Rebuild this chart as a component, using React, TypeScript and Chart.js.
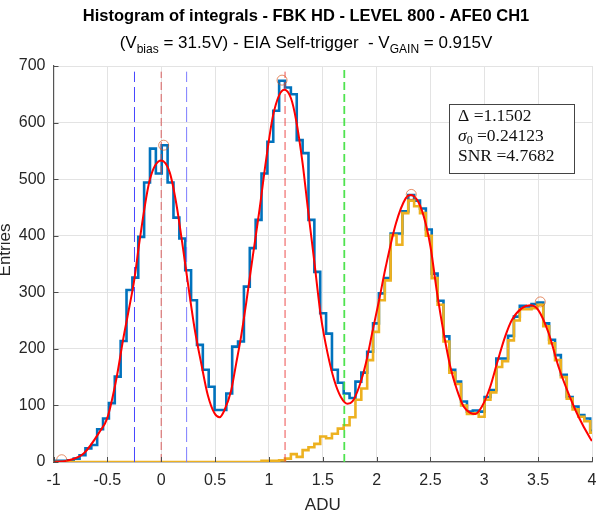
import React, { useEffect, useRef } from "react";
import { Chart, registerables } from "chart.js";
Chart.register(...registerables);

// Histogram binning (edges start at BIN_START, spaced BIN_WIDTH)
const BIN_START = -1.0305;
const BIN_WIDTH = 0.0545;

// Blue histogram counts (all events), one per bin
const blueCounts = [
  1, 2, 2, 3, 6, 12, 24, 30, 58, 77, 104, 151, 214, 304, 326, 398, 494, 554, 510,
  560, 494, 432, 395, 339, 286, 207, 163, 133, 92,
  92, 121, 204, 213, 310, 378, 428, 510, 566, 621,
  674, 662, 650, 569, 546, 428, 336, 263, 227, 163,
  140, 121, 113, 142, 158, 195, 245, 298, 325, 404,
  404, 443, 472, 462, 448, 411, 333, 285, 222, 163,
  142, 107, 89, 91, 89, 115, 127, 183, 183, 223,
  257, 276, 275, 279, 282, 245, 216, 189, 154, 115,
  98, 83, 77, 55,
];

// Orange histogram counts (above threshold), one per bin
const orangeCounts = [
  0, 0, 0, 0, 0, 0, 0, 0, 0, 0, 0, 0, 0, 0, 0, 0, 0, 0, 0,
  0, 0, 0, 0, 0, 0, 0, 0, 0, 0, 0, 0, 0, 0, 0, 0, 0,
  2, 2, 2, 3, 6, 14, 9, 21, 26, 32,
  45, 42, 50, 59, 65, 79, 110, 130, 180, 230,
  286, 321, 401, 384, 440, 462, 452, 440, 400, 325,
  278, 213, 158, 138, 100, 85, 86, 80, 110, 123,
  168, 178, 215, 250, 270, 270, 272, 278, 240, 210,
  180, 150, 112, 93, 80, 72, 52,
];

// Red fit curve, read at sample positions
const fitX = [
  -1.0, -0.88, -0.72, -0.57, -0.5, -0.415, -0.354, -0.3, -0.25, -0.2, -0.107, 0.0,
  0.079, 0.14, 0.2, 0.248, 0.31, 0.372, 0.433, 0.495, 0.542, 0.588, 0.65, 0.696,
  0.742, 0.789, 0.85, 0.912, 0.974, 1.036, 1.097, 1.144, 1.205, 1.252, 1.313, 1.36,
  1.42, 1.483, 1.545, 1.606, 1.668, 1.73, 1.776, 1.838, 1.9, 1.961, 2.023, 2.085,
  2.18, 2.27, 2.316, 2.377, 2.438, 2.5, 2.562, 2.623, 2.685, 2.747, 2.808, 2.87,
  2.917, 2.978, 3.055, 3.117, 3.194, 3.256, 3.349, 3.426, 3.5, 3.597, 3.69, 3.782,
  3.875, 3.983, 4.0,
];
const fitY = [
  0, 2, 15, 54, 78, 148, 216, 270, 322, 392, 498, 533,
  512, 457, 381, 316, 236, 174, 118, 86, 79, 92, 127, 174,
  222, 281, 363, 445, 534, 610, 649, 658, 643, 605, 528, 451,
  357, 257, 192, 145, 115, 103, 107, 133, 174, 230, 286, 345,
  422, 466, 472, 463, 434, 381, 298, 228, 168, 127, 98, 87,
  85, 98, 133, 174, 222, 251, 272, 277, 269, 228, 168, 121,
  80, 42, 37,
];

// Peak markers
const peakX = [-0.924, 0.023, 1.122, 2.322, 3.52];
const peakY = [4, 560, 675, 473, 283];

// Vertical reference lines
const sigmaLines = [-0.248, 0.236];
const peakLines = [0.0, 1.15];
const thresholdLine = 1.7;
const refTop = 690;

const xTickValues = [-1, -0.5, 0, 0.5, 1, 1.5, 2, 2.5, 3, 3.5, 4];

const titleText = "Histogram of integrals - FBK HD - LEVEL 800 - AFE0 CH1";
const boxDelta = "1.1502";
const boxSigma = "0.24123";
const boxSNR = "4.7682";

function stairs(counts: number[]) {
  const pts: { x: number; y: number }[] = [];
  counts.forEach((c, i) => pts.push({ x: BIN_START + i * BIN_WIDTH, y: c }));
  pts.push({ x: BIN_START + counts.length * BIN_WIDTH, y: counts[counts.length - 1] });
  return pts;
}

type Run = { t: string; f: string; dy?: number };

function drawRuns(ctx: CanvasRenderingContext2D, runs: Run[], x: number, y: number, align: "center" | "left") {
  let total = 0;
  for (const r of runs) {
    ctx.font = r.f;
    total += ctx.measureText(r.t).width;
  }
  let cx = align === "center" ? x - total / 2 : x;
  ctx.textAlign = "left";
  ctx.textBaseline = "alphabetic";
  for (const r of runs) {
    ctx.font = r.f;
    ctx.fillText(r.t, cx, y + (r.dy || 0));
    cx += ctx.measureText(r.t).width;
  }
}

const overlayPlugin = {
  id: "overlay",
  afterDraw(chart: any) {
    const ctx: CanvasRenderingContext2D = chart.ctx;
    const xs = chart.scales.x;
    const ys = chart.scales.y;
    const area = chart.chartArea;
    ctx.save();
    // inward ticks
    ctx.strokeStyle = "#4d4d4d";
    ctx.lineWidth = 1;
    ctx.beginPath();
    for (const v of xTickValues) {
      const px = Math.round(xs.getPixelForValue(v)) + 0.5;
      ctx.moveTo(px, area.bottom);
      ctx.lineTo(px, area.bottom - 5);
    }
    for (let v = 0; v <= 700; v += 100) {
      const py = Math.round(ys.getPixelForValue(v)) + 0.5;
      ctx.moveTo(area.left, py);
      ctx.lineTo(area.left + 5, py);
    }
    ctx.stroke();

    // titles
    ctx.fillStyle = "#000";
    drawRuns(ctx, [{ t: titleText, f: 'bold 16.5px "Liberation Sans", Arial, sans-serif' }], 306, 21, "center");
    const mf = '17px "Liberation Sans", Arial, sans-serif';
    const sf = '12px "Liberation Sans", Arial, sans-serif';
    drawRuns(
      ctx,
      [
        { t: "(V", f: mf },
        { t: "bias", f: sf, dy: 5 },
        { t: " = 31.5V) - EIA Self-trigger  - V", f: mf },
        { t: "GAIN", f: sf, dy: 5 },
        { t: " = 0.915V", f: mf },
      ],
      306,
      48,
      "center"
    );

    // axis labels
    ctx.fillStyle = "#262626";
    ctx.font = '17px "Liberation Sans", Arial, sans-serif';
    ctx.textAlign = "center";
    ctx.textBaseline = "middle";
    ctx.fillText("ADU", (area.left + area.right) / 2, 505);
    ctx.save();
    ctx.translate(5, 250);
    ctx.rotate(-Math.PI / 2);
    ctx.fillText("Entries", 0, 0);
    ctx.restore();

    // annotation box
    const bx = 449.5, by = 104.5, bw = 125, bh = 69;
    ctx.fillStyle = "#fff";
    ctx.fillRect(bx, by, bw, bh);
    ctx.strokeStyle = "#444";
    ctx.lineWidth = 1;
    ctx.strokeRect(bx, by, bw, bh);
    ctx.fillStyle = "#111";
    const sfnt = '17.5px "Liberation Serif", "DejaVu Serif", serif';
    const sfi = 'italic 17.5px "Liberation Serif", "DejaVu Serif", serif';
    const ssub = '12px "Liberation Serif", "DejaVu Serif", serif';
    drawRuns(ctx, [{ t: "\u0394 =" + boxDelta, f: sfnt }], 458, 121, "left");
    drawRuns(
      ctx,
      [
        { t: "\u03c3", f: sfi },
        { t: "0", f: ssub, dy: 3 },
        { t: " =" + boxSigma, f: sfnt },
      ],
      458,
      141,
      "left"
    );
    drawRuns(ctx, [{ t: "SNR =" + boxSNR, f: sfnt }], 458, 161, "left");
    ctx.restore();
  },
};

function vline(x: number, top: number) {
  return [
    { x, y: 0 },
    { x, y: top },
  ];
}

export default function App() {
  const ref = useRef<HTMLCanvasElement | null>(null);
  useEffect(() => {
    if (!ref.current) return;
    const fitData = fitX.map((x, i) => ({ x, y: fitY[i] }));
    const peaks = peakX.map((x, i) => ({ x, y: peakY[i] }));
    const lineDs = (data: any, color: string, dash: number[], width: number, order: number) => ({
      type: "line" as const,
      data,
      borderColor: color,
      borderWidth: width,
      borderDash: dash,
      pointRadius: 0,
      fill: false,
      order,
    });
    const chart = new Chart(ref.current, {
      type: "line",
      data: {
        datasets: [
          {
            label: "peaks",
            data: peaks,
            showLine: false,
            pointRadius: 5,
            pointBorderWidth: 1,
            pointBorderColor: "rgba(217,83,25,0.65)",
            pointBackgroundColor: "rgba(0,0,0,0)",
            order: 0,
          } as any,
          {
            label: "fit",
            data: fitData,
            borderColor: "#ff0000",
            borderWidth: 2,
            pointRadius: 0,
            cubicInterpolationMode: "monotone",
            fill: false,
            order: 1,
          } as any,
          { label: "thr", ...lineDs(vline(thresholdLine, 700), "rgba(70,225,70,0.95)", [8, 4], 1.8, 2) } as any,
          { label: "p0", ...lineDs(vline(peakLines[0], refTop), "rgba(215,70,70,0.85)", [8, 4], 1, 2) } as any,
          { label: "p1", ...lineDs(vline(peakLines[1], refTop), "rgba(235,60,60,0.9)", [8, 4], 1, 2) } as any,
          { label: "s0", ...lineDs(vline(sigmaLines[0], refTop), "rgba(60,60,255,0.95)", [15, 5], 1, 2) } as any,
          { label: "s1", ...lineDs(vline(sigmaLines[1], refTop), "rgba(110,110,255,0.9)", [15, 5], 1, 2) } as any,
          {
            label: "orange",
            data: stairs(orangeCounts),
            stepped: true,
            borderColor: "#EDB120",
            borderWidth: 2.6,
            pointRadius: 0,
            fill: false,
            order: 3,
          } as any,
          {
            label: "blue",
            data: stairs(blueCounts),
            stepped: true,
            borderColor: "#0072BD",
            borderWidth: 2.6,
            pointRadius: 0,
            fill: false,
            order: 4,
          } as any,
        ],
      },
      options: {
        responsive: false,
        devicePixelRatio: 1,
        animation: false,
        layout: { padding: { left: 0, top: 66, right: 4.5, bottom: 0 } },
        plugins: { legend: { display: false }, tooltip: { enabled: false }, title: { display: false } },
        scales: {
          x: {
            type: "linear",
            min: -1,
            max: 4,
            afterBuildTicks: (s: any) => {
              s.ticks = xTickValues.map((v) => ({ value: v }));
            },
            ticks: {
              color: "#262626",
              font: { family: '"Liberation Sans", Arial, sans-serif', size: 16 },
              padding: 9,
              maxRotation: 0,
              autoSkip: false,
              callback: (v: any) => String(+Number(v).toFixed(2)),
            },
            grid: { color: "#e3e3e3", drawTicks: false, lineWidth: 1 },
            border: { display: true, color: "#555", width: 1.2 },
            afterFit: (s: any) => {
              s.height = 53;
              s.paddingLeft = 0;
              s.paddingRight = 0;
              s.paddingTop = 0;
              s.paddingBottom = 0;
            },
          },
          y: {
            type: "linear",
            min: 0,
            max: 700,
            ticks: {
              stepSize: 100,
              color: "#262626",
              font: { family: '"Liberation Sans", Arial, sans-serif', size: 16 },
              padding: 8,
            },
            grid: { color: "#e3e3e3", drawTicks: false, lineWidth: 1 },
            border: { display: true, color: "#555", width: 1.2 },
            afterFit: (s: any) => {
              s.width = 53.5;
              s.paddingLeft = 0;
              s.paddingRight = 0;
              s.paddingTop = 0;
              s.paddingBottom = 0;
            },
          },
        },
      },
      plugins: [overlayPlugin],
    });
    return () => chart.destroy();
  }, []);
  return (
    <div style={{ position: "absolute", left: 0, top: 0, width: 598, height: 515, background: "#fff" }}>
      <canvas ref={ref} width={598} height={515} style={{ width: 598, height: 515, display: "block" }} />
    </div>
  );
}
